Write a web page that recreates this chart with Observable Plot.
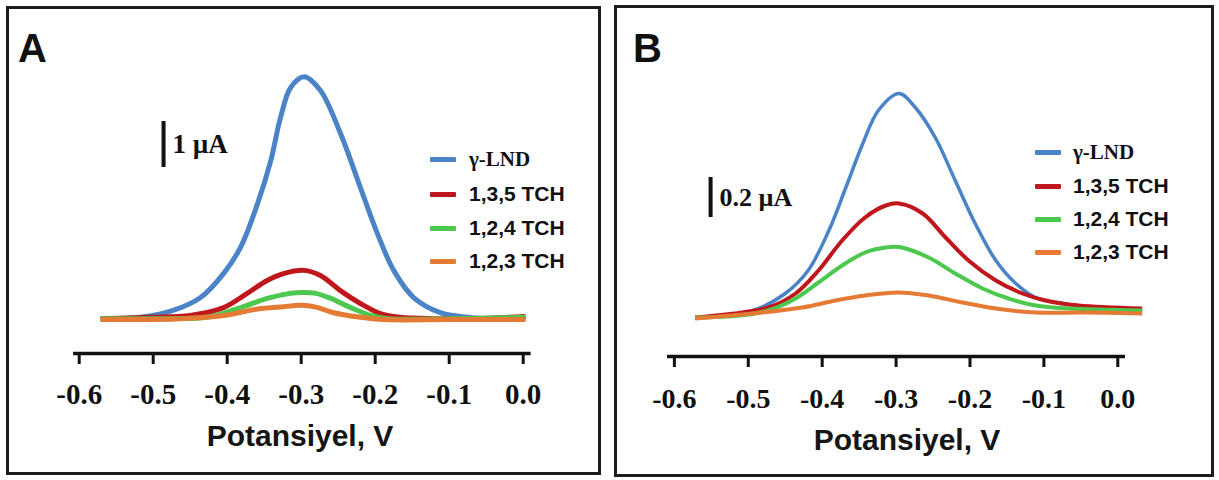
<!DOCTYPE html>
<html>
<head>
<meta charset="utf-8">
<script src="https://cdn.jsdelivr.net/npm/d3@7"></script>
<script src="https://cdn.jsdelivr.net/npm/@observablehq/plot@0.6"></script>
<style>
  html, body { margin: 0; padding: 0; background: #fff; }
  body { position: relative; width: 1219px; height: 480px; overflow: hidden; font-family: "Liberation Sans", Arial, sans-serif; color: #111; }
  .plotbox { position: absolute; top: 0; width: 609px; height: 480px; }
  .frame { position: absolute; border: 3px solid #1c1c1c; box-sizing: border-box; pointer-events: none; }
  .letter { position: absolute; font: bold 40px "Liberation Sans", Arial, sans-serif; line-height: 40px; }
  .xtitle { position: absolute; font: bold 30px "Liberation Sans", Arial, sans-serif; line-height: 30px; white-space: nowrap; transform: translateX(-50%); color: #151515; }
  .leg-row { position: absolute; height: 20px; display: flex; align-items: center; white-space: nowrap; }
  .leg-sw { height: 5px; border-radius: 1px; }
  .leg-tx { font: bold 21px "Liberation Sans", Arial, sans-serif; line-height: 20px; }
  .leg-tx.serif { font-family: "Liberation Serif", "Times New Roman", serif; }
</style>
</head>
<body>
<script>
// ---------------- data ----------------
const seriesNames = ["γ-LND", "1,3,5 TCH", "1,2,4 TCH", "1,2,3 TCH"];
const seriesColors = ["#4a84c6", "#c0171d", "#4cc84f", "#e47a33"];
const xTicks = [-0.6, -0.5, -0.4, -0.3, -0.2, -0.1, 0.0];
const xLabel = "Potansiyel, V";
const panelLabels = ["A", "B"];

// Panel A: potential (V), current (µA)
const lndA = [[-0.571,0.04],[-0.517,0.07],[-0.473,0.22],[-0.436,0.50],[-0.405,1.02],[-0.382,1.59],[-0.359,2.54],[-0.341,3.48],[-0.328,4.41],[-0.314,5.07],[-0.296,5.30],[-0.274,5.00],[-0.247,4.07],[-0.220,2.89],[-0.197,1.89],[-0.175,1.09],[-0.148,0.50],[-0.112,0.17],[-0.075,0.07],[-0.048,0.04],[0.003,0.04]];
const tch135A = [[-0.571,0.04],[-0.504,0.07],[-0.450,0.11],[-0.405,0.28],[-0.373,0.59],[-0.346,0.87],[-0.324,1.02],[-0.296,1.09],[-0.274,0.98],[-0.247,0.65],[-0.220,0.37],[-0.193,0.15],[-0.166,0.07],[-0.121,0.04],[-0.071,0.04],[0.003,0.09]];
const tch124A = [[-0.571,0.04],[-0.477,0.04],[-0.427,0.07],[-0.382,0.28],[-0.346,0.48],[-0.315,0.59],[-0.298,0.61],[-0.280,0.59],[-0.260,0.48],[-0.233,0.28],[-0.206,0.11],[-0.183,0.04],[-0.098,0.04],[0.003,0.07]];
const tch123A = [[-0.571,0.02],[-0.463,0.04],[-0.405,0.11],[-0.359,0.25],[-0.324,0.30],[-0.300,0.33],[-0.280,0.29],[-0.256,0.17],[-0.220,0.07],[-0.189,0.02],[-0.098,0.02],[0.003,0.02]];

// Panel B: potential (V), current (µA)
const lndB = [[-0.572,0.00],[-0.494,0.035],[-0.450,0.12],[-0.419,0.235],[-0.391,0.435],[-0.368,0.65],[-0.345,0.87],[-0.324,1.035],[-0.296,1.12],[-0.274,1.05],[-0.247,0.90],[-0.220,0.685],[-0.193,0.47],[-0.165,0.285],[-0.138,0.17],[-0.111,0.10],[-0.075,0.07],[-0.030,0.05],[0.033,0.035]];
const tch135B = [[-0.572,0.00],[-0.473,0.05],[-0.436,0.12],[-0.405,0.235],[-0.373,0.385],[-0.342,0.50],[-0.314,0.56],[-0.296,0.57],[-0.264,0.52],[-0.233,0.40],[-0.202,0.285],[-0.165,0.185],[-0.129,0.12],[-0.098,0.085],[-0.053,0.06],[0.033,0.045]];
const tch124B = [[-0.572,0.00],[-0.511,0.01],[-0.473,0.035],[-0.436,0.095],[-0.405,0.175],[-0.373,0.26],[-0.342,0.325],[-0.314,0.35],[-0.296,0.352],[-0.256,0.30],[-0.220,0.22],[-0.183,0.145],[-0.148,0.095],[-0.111,0.06],[-0.067,0.045],[0.033,0.035]];
const tch123B = [[-0.572,-0.005],[-0.494,0.02],[-0.427,0.05],[-0.382,0.085],[-0.342,0.11],[-0.298,0.125],[-0.256,0.11],[-0.210,0.075],[-0.165,0.045],[-0.111,0.025],[-0.048,0.025],[0.033,0.02]];

// scale bars (µA)
const scaleBarA = {value: 1, label: "1 µA"};
const scaleBarB = {value: 0.2, label: "0.2 µA"};

// ---------------- layout ----------------
const panels = [
  {
    left: 0, series: [lndA, tch135A, tch124A, tch123A],
    xDomain: [-0.62, 0.03], yDomain: [-0.717, 6],
    margins: {top: 44, bottom: 127, left: 63.9, right: 64.1},
    axisExtent: [-0.6076, 0.0107], tickPad: 19, tickFont: 29,
    lineWidths: [5, 5, 5, 5],
    bar: {...scaleBarA, x: -0.486, y0: 3.326}, barFont: 27,
    frame: {left: 6, top: 6, width: 595, height: 469},
    letter: {left: 18, top: 28},
    title: {cx: 300, top: 421},
    legend: {swLeft: 430, swWidth: 26, txLeft: 469, rows: [159, 194, 228, 261]}
  },
  {
    left: 610, series: [lndB, tch135B, tch124B, tch123B],
    xDomain: [-0.62, 0.05], yDomain: [-0.195, 1.3],
    margins: {top: 57, bottom: 124, left: 49.1, right: 64.75},
    axisExtent: [-0.6093, 0.0104], tickPad: 21, tickFont: 28,
    lineWidths: [3.5, 4, 4, 4],
    bar: {...scaleBarB, x: -0.551, y0: 0.5}, barFont: 26,
    frame: {left: 614, top: 5, width: 600, height: 472},
    letter: {left: 633, top: 28},
    title: {cx: 907, top: 425},
    legend: {swLeft: 1035, swWidth: 26, txLeft: 1073, rows: [152, 186, 219, 252]}
  }
];

panels.forEach((p, pi) => {
  const data = p.series.flatMap((pts, si) => pts.map(([v, i]) => ({v, i, name: seriesNames[si]})));
  const bar = [{x: p.bar.x, y1: p.bar.y0, y2: p.bar.y0 + p.bar.value, label: p.bar.label}];
  const axisLine = [{y: p.yDomain[0], x1: p.axisExtent[0], x2: p.axisExtent[1]}];
  const chart = Plot.plot({
    width: 609, height: 480,
    marginTop: p.margins.top, marginBottom: p.margins.bottom,
    marginLeft: p.margins.left, marginRight: p.margins.right,
    x: {domain: p.xDomain},
    y: {domain: p.yDomain, axis: null},
    color: {domain: seriesNames, range: seriesColors},
    style: {background: "transparent", overflow: "visible", color: "#111"},
    marks: [
      Plot.ruleY(axisLine, {y: "y", x1: "x1", x2: "x2", stroke: "#111", strokeWidth: 3.5}),
      Plot.axisX({
        ticks: xTicks, tickFormat: d => d.toFixed(1), label: null,
        tickSize: 11, tickPadding: p.tickPad, strokeWidth: 3, stroke: "#111",
        fontSize: p.tickFont, fontWeight: "bold", fontFamily: "Liberation Serif, Times New Roman, serif", fill: "#111"
      }),
      ...p.series.map((pts, si) => Plot.line(data.filter(d => d.name === seriesNames[si]), {
        x: "v", y: "i", stroke: "name", strokeWidth: p.lineWidths[si], curve: "catmull-rom", strokeLinecap: "butt"
      })),
      Plot.ruleX(bar, {x: "x", y1: "y1", y2: "y2", stroke: "#111", strokeWidth: 4}),
      Plot.text(bar, {x: "x", y: d => (d.y1 + d.y2) / 2, text: "label", textAnchor: "start", dx: 9,
        fontSize: p.barFont, fontWeight: "bold", fontFamily: "Liberation Serif, Times New Roman, serif", fill: "#111"})
    ]
  });
  const box = document.createElement("div");
  box.className = "plotbox";
  box.style.left = p.left + "px";
  box.appendChild(chart);
  document.body.appendChild(box);

  const fr = document.createElement("div");
  fr.className = "frame";
  Object.assign(fr.style, {left: p.frame.left + "px", top: p.frame.top + "px", width: p.frame.width + "px", height: p.frame.height + "px"});
  document.body.appendChild(fr);

  const lt = document.createElement("div");
  lt.className = "letter";
  lt.textContent = panelLabels[pi];
  Object.assign(lt.style, {left: p.letter.left + "px", top: p.letter.top + "px"});
  document.body.appendChild(lt);

  const tt = document.createElement("div");
  tt.className = "xtitle";
  tt.textContent = xLabel;
  Object.assign(tt.style, {left: p.title.cx + "px", top: p.title.top + "px"});
  document.body.appendChild(tt);

  seriesNames.forEach((name, si) => {
    const row = document.createElement("div");
    row.className = "leg-row";
    row.style.left = p.legend.swLeft + "px";
    row.style.top = (p.legend.rows[si] - 10) + "px";
    const sw = document.createElement("div");
    sw.className = "leg-sw";
    sw.style.width = p.legend.swWidth + "px";
    sw.style.background = seriesColors[si];
    sw.style.marginRight = (p.legend.txLeft - p.legend.swLeft - p.legend.swWidth) + "px";
    const tx = document.createElement("span");
    tx.className = "leg-tx" + (si === 0 ? " serif" : "");
    tx.textContent = name;
    row.appendChild(sw);
    row.appendChild(tx);
    document.body.appendChild(row);
  });
});
</script>
</body>
</html>
